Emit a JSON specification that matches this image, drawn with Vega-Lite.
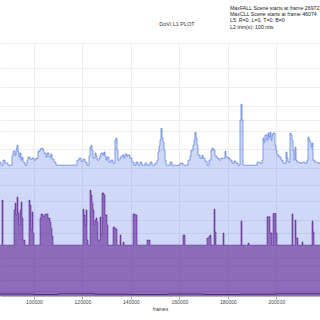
{
  "$schema": "https://vega.github.io/schema/vega-lite/v6.json",
  "width": 320,
  "height": 253,
  "autosize": {"type": "none"},
  "padding": {"left": 0, "right": 0, "top": 43, "bottom": 24},
  "background": "white",
  "config": {"view": {"stroke": null}, "font": "Liberation Sans"},
  "datasets": {
    "maxL1": [
      {"frame": 86000, "pq": 0.529}, {"frame": 86413, "pq": 0.517}, {"frame": 87238, "pq": 0.537}, {"frame": 88063, "pq": 0.525}, {"frame": 89300, "pq": 0.517},
      {"frame": 90950, "pq": 0.553}, {"frame": 91363, "pq": 0.572}, {"frame": 92188, "pq": 0.557}, {"frame": 92600, "pq": 0.580}, {"frame": 93013, "pq": 0.596},
      {"frame": 93425, "pq": 0.569}, {"frame": 93838, "pq": 0.549}, {"frame": 94250, "pq": 0.565}, {"frame": 94663, "pq": 0.537}, {"frame": 95075, "pq": 0.549},
      {"frame": 95488, "pq": 0.529}, {"frame": 96313, "pq": 0.517}, {"frame": 97138, "pq": 0.537}, {"frame": 97550, "pq": 0.549}, {"frame": 98375, "pq": 0.541},
      {"frame": 99200, "pq": 0.545}, {"frame": 100025, "pq": 0.537}, {"frame": 100850, "pq": 0.545}, {"frame": 101675, "pq": 0.572}, {"frame": 102500, "pq": 0.580},
      {"frame": 102913, "pq": 0.584}, {"frame": 103738, "pq": 0.576}, {"frame": 104150, "pq": 0.565}, {"frame": 104975, "pq": 0.549}, {"frame": 105388, "pq": 0.565},
      {"frame": 106213, "pq": 0.549}, {"frame": 107038, "pq": 0.561}, {"frame": 107450, "pq": 0.541}, {"frame": 108275, "pq": 0.529}, {"frame": 109100, "pq": 0.517},
      {"frame": 117763, "pq": 0.537}, {"frame": 118588, "pq": 0.545}, {"frame": 119413, "pq": 0.533}, {"frame": 120238, "pq": 0.541}, {"frame": 121063, "pq": 0.529},
      {"frame": 121888, "pq": 0.517}, {"frame": 122713, "pq": 0.553}, {"frame": 123125, "pq": 0.588}, {"frame": 123538, "pq": 0.596}, {"frame": 123950, "pq": 0.576},
      {"frame": 124363, "pq": 0.545}, {"frame": 125188, "pq": 0.565}, {"frame": 125600, "pq": 0.553}, {"frame": 126013, "pq": 0.537}, {"frame": 126838, "pq": 0.545},
      {"frame": 127250, "pq": 0.557}, {"frame": 127663, "pq": 0.565}, {"frame": 128488, "pq": 0.557}, {"frame": 128900, "pq": 0.569}, {"frame": 129313, "pq": 0.553},
      {"frame": 129725, "pq": 0.537}, {"frame": 130138, "pq": 0.549}, {"frame": 130963, "pq": 0.529}, {"frame": 131788, "pq": 0.537}, {"frame": 132613, "pq": 0.525},
      {"frame": 133438, "pq": 0.616}, {"frame": 133850, "pq": 0.624}, {"frame": 134263, "pq": 0.576}, {"frame": 134675, "pq": 0.537}, {"frame": 135500, "pq": 0.549},
      {"frame": 136325, "pq": 0.557}, {"frame": 137150, "pq": 0.545}, {"frame": 137563, "pq": 0.561}, {"frame": 138388, "pq": 0.553}, {"frame": 138800, "pq": 0.557},
      {"frame": 139625, "pq": 0.545}, {"frame": 140450, "pq": 0.529}, {"frame": 141275, "pq": 0.517}, {"frame": 142100, "pq": 0.529}, {"frame": 142925, "pq": 0.517},
      {"frame": 143750, "pq": 0.529}, {"frame": 144575, "pq": 0.517}, {"frame": 145813, "pq": 0.525}, {"frame": 146638, "pq": 0.517}, {"frame": 147875, "pq": 0.529},
      {"frame": 148700, "pq": 0.517}, {"frame": 149938, "pq": 0.525}, {"frame": 150763, "pq": 0.537}, {"frame": 151175, "pq": 0.569}, {"frame": 151588, "pq": 0.592},
      {"frame": 152000, "pq": 0.616}, {"frame": 152413, "pq": 0.663}, {"frame": 152825, "pq": 0.624}, {"frame": 153238, "pq": 0.608}, {"frame": 153650, "pq": 0.576},
      {"frame": 154063, "pq": 0.537}, {"frame": 154475, "pq": 0.517}, {"frame": 156125, "pq": 0.529}, {"frame": 156950, "pq": 0.517}, {"frame": 160250, "pq": 0.525},
      {"frame": 161488, "pq": 0.517}, {"frame": 163550, "pq": 0.537}, {"frame": 164375, "pq": 0.553}, {"frame": 164788, "pq": 0.576}, {"frame": 165613, "pq": 0.596},
      {"frame": 166025, "pq": 0.616}, {"frame": 166438, "pq": 0.647}, {"frame": 166850, "pq": 0.624}, {"frame": 167263, "pq": 0.596}, {"frame": 167675, "pq": 0.557},
      {"frame": 168500, "pq": 0.545}, {"frame": 169325, "pq": 0.557}, {"frame": 169738, "pq": 0.545}, {"frame": 170563, "pq": 0.533}, {"frame": 171388, "pq": 0.517},
      {"frame": 172213, "pq": 0.537}, {"frame": 173038, "pq": 0.576}, {"frame": 173450, "pq": 0.584}, {"frame": 173863, "pq": 0.580}, {"frame": 174275, "pq": 0.576},
      {"frame": 174688, "pq": 0.553}, {"frame": 175513, "pq": 0.545}, {"frame": 176338, "pq": 0.537}, {"frame": 177163, "pq": 0.545}, {"frame": 178813, "pq": 0.572},
      {"frame": 179225, "pq": 0.549}, {"frame": 180050, "pq": 0.545}, {"frame": 180875, "pq": 0.537}, {"frame": 181700, "pq": 0.525}, {"frame": 182525, "pq": 0.533},
      {"frame": 183350, "pq": 0.525}, {"frame": 184175, "pq": 0.517}, {"frame": 185000, "pq": 0.695}, {"frame": 185413, "pq": 0.758}, {"frame": 185825, "pq": 0.695},
      {"frame": 186238, "pq": 0.517}, {"frame": 192013, "pq": 0.529}, {"frame": 193250, "pq": 0.525}, {"frame": 194075, "pq": 0.537}, {"frame": 194488, "pq": 0.624},
      {"frame": 194900, "pq": 0.608}, {"frame": 195313, "pq": 0.636}, {"frame": 196138, "pq": 0.616}, {"frame": 196550, "pq": 0.644}, {"frame": 196963, "pq": 0.628},
      {"frame": 197375, "pq": 0.647}, {"frame": 197788, "pq": 0.616}, {"frame": 198200, "pq": 0.636}, {"frame": 198613, "pq": 0.644}, {"frame": 199438, "pq": 0.596},
      {"frame": 199850, "pq": 0.576}, {"frame": 200263, "pq": 0.557}, {"frame": 201088, "pq": 0.549}, {"frame": 201913, "pq": 0.537}, {"frame": 202738, "pq": 0.525},
      {"frame": 203975, "pq": 0.569}, {"frame": 204388, "pq": 0.545}, {"frame": 204800, "pq": 0.529}, {"frame": 205625, "pq": 0.644}, {"frame": 206038, "pq": 0.636},
      {"frame": 206450, "pq": 0.616}, {"frame": 206863, "pq": 0.576}, {"frame": 207275, "pq": 0.537}, {"frame": 207688, "pq": 0.588}, {"frame": 208100, "pq": 0.537},
      {"frame": 208513, "pq": 0.529}, {"frame": 209750, "pq": 0.525}, {"frame": 210575, "pq": 0.529}, {"frame": 211813, "pq": 0.525}, {"frame": 212638, "pq": 0.537},
      {"frame": 213050, "pq": 0.628}, {"frame": 213463, "pq": 0.616}, {"frame": 213875, "pq": 0.608}, {"frame": 214288, "pq": 0.588}, {"frame": 214700, "pq": 0.604},
      {"frame": 215113, "pq": 0.537}, {"frame": 215938, "pq": 0.529}, {"frame": 217175, "pq": 0.525}, {"frame": 218000, "pq": 0.529}
    ],
    "avgL1": [
      {"frame": 86000, "pq": 0.201}, {"frame": 86825, "pq": 0.379}, {"frame": 87238, "pq": 0.201}, {"frame": 91775, "pq": 0.340}, {"frame": 92188, "pq": 0.367},
      {"frame": 92600, "pq": 0.320}, {"frame": 93013, "pq": 0.391}, {"frame": 93425, "pq": 0.328}, {"frame": 93838, "pq": 0.280}, {"frame": 94250, "pq": 0.340},
      {"frame": 94663, "pq": 0.371}, {"frame": 95075, "pq": 0.308}, {"frame": 95488, "pq": 0.221}, {"frame": 96313, "pq": 0.201}, {"frame": 97963, "pq": 0.379},
      {"frame": 98375, "pq": 0.359}, {"frame": 98788, "pq": 0.261}, {"frame": 99200, "pq": 0.332}, {"frame": 99613, "pq": 0.249}, {"frame": 100025, "pq": 0.201},
      {"frame": 102500, "pq": 0.308}, {"frame": 102913, "pq": 0.324}, {"frame": 103738, "pq": 0.316}, {"frame": 104563, "pq": 0.324}, {"frame": 105800, "pq": 0.308},
      {"frame": 106625, "pq": 0.292}, {"frame": 107038, "pq": 0.268}, {"frame": 107450, "pq": 0.237}, {"frame": 107863, "pq": 0.201}, {"frame": 120238, "pq": 0.343},
      {"frame": 120650, "pq": 0.320}, {"frame": 121063, "pq": 0.280}, {"frame": 121475, "pq": 0.340}, {"frame": 121888, "pq": 0.221}, {"frame": 122300, "pq": 0.201},
      {"frame": 123125, "pq": 0.418}, {"frame": 123538, "pq": 0.399}, {"frame": 123950, "pq": 0.367}, {"frame": 124363, "pq": 0.340}, {"frame": 124775, "pq": 0.280},
      {"frame": 125188, "pq": 0.300}, {"frame": 125600, "pq": 0.308}, {"frame": 126013, "pq": 0.292}, {"frame": 126425, "pq": 0.221}, {"frame": 127250, "pq": 0.312},
      {"frame": 127663, "pq": 0.241}, {"frame": 128075, "pq": 0.407}, {"frame": 128900, "pq": 0.399}, {"frame": 129313, "pq": 0.320}, {"frame": 130138, "pq": 0.280},
      {"frame": 130550, "pq": 0.201}, {"frame": 132613, "pq": 0.272}, {"frame": 133438, "pq": 0.265}, {"frame": 134263, "pq": 0.201}, {"frame": 135500, "pq": 0.241},
      {"frame": 135913, "pq": 0.201}, {"frame": 136738, "pq": 0.213}, {"frame": 137150, "pq": 0.201}, {"frame": 140863, "pq": 0.324}, {"frame": 141688, "pq": 0.320},
      {"frame": 142513, "pq": 0.201}, {"frame": 146638, "pq": 0.221}, {"frame": 147875, "pq": 0.201}, {"frame": 161488, "pq": 0.241}, {"frame": 162313, "pq": 0.201},
      {"frame": 171388, "pq": 0.229}, {"frame": 172213, "pq": 0.237}, {"frame": 172625, "pq": 0.241}, {"frame": 173038, "pq": 0.201}, {"frame": 174275, "pq": 0.343},
      {"frame": 174688, "pq": 0.253}, {"frame": 175100, "pq": 0.201}, {"frame": 177988, "pq": 0.249}, {"frame": 178400, "pq": 0.201}, {"frame": 185413, "pq": 0.296},
      {"frame": 185825, "pq": 0.201}, {"frame": 188300, "pq": 0.209}, {"frame": 188713, "pq": 0.201}, {"frame": 196138, "pq": 0.313}, {"frame": 196550, "pq": 0.313},
      {"frame": 196963, "pq": 0.313}, {"frame": 197375, "pq": 0.249}, {"frame": 198200, "pq": 0.201}, {"frame": 198613, "pq": 0.326}, {"frame": 199438, "pq": 0.326},
      {"frame": 199850, "pq": 0.249}, {"frame": 200263, "pq": 0.201}, {"frame": 206450, "pq": 0.324}, {"frame": 206863, "pq": 0.201}, {"frame": 207688, "pq": 0.300},
      {"frame": 208100, "pq": 0.229}, {"frame": 208925, "pq": 0.201}, {"frame": 210575, "pq": 0.213}, {"frame": 210988, "pq": 0.201}, {"frame": 214700, "pq": 0.296},
      {"frame": 215113, "pq": 0.253}, {"frame": 215525, "pq": 0.201}, {"frame": 218000, "pq": 0.201}
    ],
    "minL1": [
      {"frame": 86000, "pq": 0.008}, {"frame": 100000, "pq": 0.006}, {"frame": 110000, "pq": 0.009}, {"frame": 125000, "pq": 0.007}, {"frame": 140000, "pq": 0.006},
      {"frame": 155000, "pq": 0.008}, {"frame": 170000, "pq": 0.006}, {"frame": 185000, "pq": 0.007}, {"frame": 200000, "pq": 0.009}, {"frame": 218000, "pq": 0.007}
    ],
    "notes": [
      {"note": "MaxFALL Scene starts at frame 26972\nMaxCLL Scene starts at frame 46074\nL5: R=0, L=0, T=0, B=0\nL2 trim(s): 100 nits"}
    ],
    "heading": [
      {"label": "DoVi L1 PLOT"}
    ]
  },
  "layer": [
    {
      "encoding": {
        "x": {
          "field": "frame", "type": "quantitative",
          "scale": {"domain": [86000, 218000], "nice": false, "zero": false},
          "axis": {"title": "frames", "values": [100000, 120000, 140000, 160000, 180000, 200000, 220000], "format": "d",
            "labelFontSize": 5, "titleFontSize": 5, "titleFontWeight": "normal", "labelColor": "#444444", "titleColor": "#333333",
            "labelFont": "Liberation Sans", "titleFont": "Liberation Sans",
            "tickSize": 3, "tickColor": "#aaaaaa", "domainColor": "#b5b5b5", "grid": true, "gridColor": "#ededed",
            "labelPadding": 0, "titlePadding": 2.5, "labelFlush": false, "labelOverlap": false}
        },
        "y": {
          "field": "pq", "type": "quantitative",
          "scale": {"domain": [0, 1], "nice": false, "zero": true},
          "axis": {"values": [0.0215, 0.0623, 0.1175, 0.15, 0.2018, 0.248, 0.2996, 0.3766, 0.4403, 0.5079, 0.5793, 0.6526, 0.6963, 0.7518, 0.8262, 0.9015, 1],
            "labels": false, "ticks": false, "domain": false, "title": null, "grid": true, "gridColor": "#ededed"}
        }
      },
      "layer": [
        {"data": {"name": "maxL1"}, "mark": {"type": "area", "interpolate": "step-after", "color": "#4169e1", "fillOpacity": 0.25}},
        {"data": {"name": "maxL1"}, "mark": {"type": "line", "interpolate": "step-after", "color": "#4169e1", "strokeWidth": 0.7, "opacity": 0.9}},
        {"data": {"name": "avgL1"}, "mark": {"type": "area", "interpolate": "step-after", "color": "#4b0082", "fillOpacity": 0.5}},
        {"data": {"name": "avgL1"}, "mark": {"type": "line", "interpolate": "step-after", "color": "#4b0082", "strokeWidth": 0.6, "opacity": 0.8}},
        {"data": {"name": "minL1"}, "mark": {"type": "line", "interpolate": "step-after", "color": "#2e1a4a", "strokeWidth": 1, "opacity": 0.7}}
      ]
    },
    {
      "data": {"name": "notes"},
      "mark": {"type": "text", "clip": false, "align": "left", "baseline": "alphabetic", "lineBreak": "\n", "lineHeight": 6.3, "fontSize": 5.25, "color": "#222222", "font": "Liberation Sans"},
      "encoding": {
        "x": {"datum": 180875, "type": "quantitative"},
        "y": {"datum": 1.131, "type": "quantitative",
          "axis": {"values": [0.0215, 0.0623, 0.1175, 0.15, 0.2018, 0.248, 0.2996, 0.3766, 0.4403, 0.5079, 0.5793, 0.6526, 0.6963, 0.7518, 0.8262, 0.9015, 1],
            "labels": false, "ticks": false, "domain": false, "title": null, "grid": true, "gridColor": "#ededed"}},
        "text": {"field": "note", "type": "nominal"}
      }
    },
    {
      "data": {"name": "heading"},
      "mark": {"type": "text", "clip": false, "align": "center", "baseline": "alphabetic", "fontSize": 5.5, "color": "#333333", "font": "Liberation Sans"},
      "encoding": {
        "x": {"datum": 159013, "type": "quantitative"},
        "y": {"datum": 1.067, "type": "quantitative",
          "axis": {"values": [0.0215, 0.0623, 0.1175, 0.15, 0.2018, 0.248, 0.2996, 0.3766, 0.4403, 0.5079, 0.5793, 0.6526, 0.6963, 0.7518, 0.8262, 0.9015, 1],
            "labels": false, "ticks": false, "domain": false, "title": null, "grid": true, "gridColor": "#ededed"}},
        "text": {"field": "label", "type": "nominal"}
      }
    }
  ]
}
